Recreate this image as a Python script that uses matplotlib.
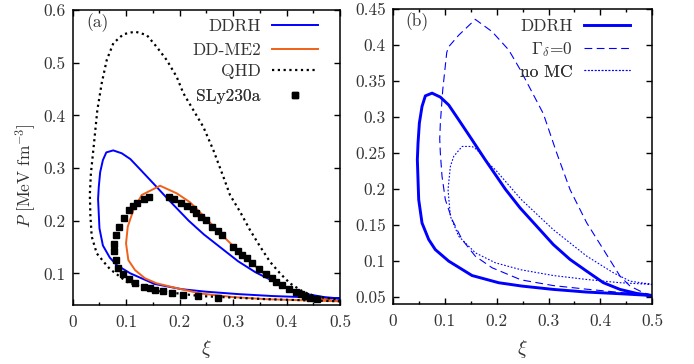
import numpy as np
import matplotlib.pyplot as plt
from matplotlib.ticker import MultipleLocator, FuncFormatter

plt.rcParams['font.family'] = 'cmr10'
plt.rcParams['mathtext.fontset'] = 'cm'
plt.rcParams['axes.formatter.use_mathtext'] = True
plt.rcParams['font.size'] = 12.5
plt.rcParams['text.color'] = '#333333'
plt.rcParams['xtick.labelcolor'] = '#333333'
plt.rcParams['ytick.labelcolor'] = '#333333'
plt.rcParams['axes.labelcolor'] = '#333333'

# DDRH loop (same in both panels): lower branch right->left, then upper branch left->right
ddrh_xi = [0.5, 0.4378, 0.3736, 0.3093, 0.249, 0.204, 0.1527, 0.1078, 0.082, 0.0693,
           0.0564, 0.05, 0.0474, 0.0487, 0.0513, 0.0564, 0.0628, 0.0757, 0.0917, 0.1078,
           0.127, 0.1527, 0.178, 0.1913, 0.2169, 0.2452, 0.2773, 0.3093, 0.3415, 0.3736,
           0.4057, 0.4378, 0.47, 0.5]
ddrh_p = [0.0522, 0.0547, 0.057, 0.0607, 0.0653, 0.07, 0.08, 0.1, 0.116, 0.13,
          0.153, 0.1855, 0.241, 0.264, 0.292, 0.315, 0.3297, 0.3335, 0.328, 0.317,
          0.2965, 0.2687, 0.241, 0.227, 0.2, 0.174, 0.1485, 0.123, 0.1023, 0.086,
          0.07, 0.0607, 0.0551, 0.0522]

# DD-ME2
ddme2_xi = [0.5, 0.43, 0.363, 0.3, 0.238, 0.1882, 0.157, 0.1352, 0.1165, 0.104,
            0.0997, 0.1029, 0.1134, 0.129, 0.1633, 0.1945, 0.2194, 0.238, 0.26, 0.28,
            0.3, 0.32, 0.34, 0.36, 0.38, 0.4, 0.425, 0.45, 0.5]
ddme2_p = [0.047, 0.049, 0.051, 0.055, 0.062, 0.0735, 0.0811, 0.0906, 0.1063, 0.1253,
           0.157, 0.1886, 0.2203, 0.2488, 0.2664, 0.252, 0.235, 0.216, 0.193, 0.172,
           0.152, 0.134, 0.115, 0.097, 0.083, 0.072, 0.061, 0.054, 0.047]

# QHD
qhd_xi = [0.5, 0.363, 0.238, 0.1446, 0.101, 0.0698, 0.0604, 0.0449, 0.0355, 0.033,
          0.032, 0.034, 0.0398, 0.046, 0.0542, 0.0636, 0.076, 0.0947, 0.1165, 0.1384,
          0.157, 0.1758, 0.1945, 0.2069, 0.2256, 0.2443, 0.263, 0.2817, 0.2942, 0.313,
          0.3317, 0.3504, 0.369, 0.3878, 0.4065, 0.4314, 0.4564, 0.5]
qhd_p = [0.047, 0.051, 0.057, 0.0684, 0.084, 0.108, 0.119, 0.138, 0.17, 0.21,
         0.25, 0.29, 0.347, 0.41, 0.461, 0.505, 0.537, 0.554, 0.559, 0.5525,
         0.53, 0.505, 0.473, 0.442, 0.41, 0.378, 0.334, 0.2835, 0.2487, 0.217,
         0.182, 0.151, 0.122, 0.1, 0.081, 0.065, 0.0557, 0.05]

# SLy230a points
sly_xi = [0.0773, 0.0773, 0.081, 0.0853, 0.0935, 0.106, 0.1165, 0.1334, 0.1446, 0.154,
          0.1695, 0.185, 0.2058, 0.235, 0.2724,
          0.081, 0.087, 0.096, 0.106, 0.112, 0.121, 0.1334, 0.1427, 0.1807, 0.1895,
          0.202, 0.2132, 0.2245, 0.2306, 0.2394, 0.2488, 0.2611, 0.2712, 0.2798, 0.3004,
          0.3086, 0.3173, 0.3255, 0.3348, 0.3485, 0.3616, 0.3722, 0.3803, 0.3909, 0.4046,
          0.4171, 0.4271, 0.4346, 0.4439, 0.4564]
sly_p = [0.1557, 0.143, 0.125, 0.1096, 0.0988, 0.0893, 0.0823, 0.0747, 0.0716, 0.0684,
         0.067, 0.0633, 0.0594, 0.057, 0.0526,
         0.1728, 0.1874, 0.2057, 0.2203, 0.2279, 0.233, 0.2406, 0.2444, 0.2444, 0.2406,
         0.233, 0.2284, 0.2216, 0.2152, 0.2076, 0.2013, 0.1886, 0.1804, 0.1728, 0.1506,
         0.143, 0.1348, 0.1286, 0.1202, 0.1083, 0.0988, 0.0906, 0.0842, 0.0779, 0.0703,
         0.064, 0.0602, 0.057, 0.0532, 0.0507]

# panel (b): Gamma_delta = 0
gd0_xi = [0.5, 0.4378, 0.3736, 0.3093, 0.247, 0.1913, 0.159, 0.1335, 0.1142, 0.1013,
          0.0949, 0.0917, 0.0905, 0.0917, 0.0963, 0.104, 0.1078, 0.127, 0.159, 0.1913,
          0.2234, 0.2458, 0.29, 0.3158, 0.3415, 0.3736, 0.4057, 0.4378, 0.457, 0.4827, 0.5]
gd0_p = [0.0522, 0.0565, 0.061, 0.066, 0.074, 0.0908, 0.1069, 0.13, 0.1578, 0.1855,
         0.218, 0.25, 0.27, 0.292, 0.338, 0.39, 0.398, 0.414, 0.436, 0.419,
         0.3935, 0.3658, 0.305, 0.2503, 0.1994, 0.1532, 0.1162, 0.0791, 0.0653, 0.0561, 0.0522]

# panel (b): no MC
nomc_xi = [0.5, 0.4378, 0.3736, 0.3093, 0.247, 0.1976, 0.159, 0.127, 0.111, 0.1065,
           0.111, 0.1175, 0.1335, 0.1527, 0.162, 0.187, 0.1976, 0.247, 0.3093, 0.3736,
           0.425, 0.457, 0.5]
nomc_p = [0.0676, 0.07, 0.0745, 0.08, 0.088, 0.0977, 0.1116, 0.1346, 0.1623, 0.1994,
          0.2317, 0.2456, 0.2594, 0.2594, 0.255, 0.234, 0.2271, 0.186, 0.1437, 0.1069,
          0.0838, 0.0722, 0.0676]

blue = '#0000ff'
orange = '#f0601a'

fig = plt.figure(figsize=(6.94, 3.64), dpi=100)
ax1 = fig.add_axes([0.1048, 0.1621, 0.3852, 0.8104])
ax2 = fig.add_axes([0.5659, 0.1640, 0.3741, 0.8104])

fmt = FuncFormatter(lambda v, pos: '%g' % round(v, 3))


def style(ax):
    ax.xaxis.set_major_locator(MultipleLocator(0.1))
    ax.xaxis.set_minor_locator(MultipleLocator(0.05))
    ax.xaxis.set_major_formatter(fmt)
    ax.yaxis.set_major_formatter(fmt)
    ax.tick_params(which='both', direction='in', top=True, right=True, width=1)
    ax.tick_params(which='major', length=4.5)
    ax.tick_params(which='minor', length=2.2)
    ax.tick_params(axis='x', pad=7)
    ax.tick_params(axis='y', pad=5)
    for s in ax.spines.values():
        s.set_linewidth(1.1)
    ax.set_xlim(0, 0.5)
    ax.set_xlabel(r'$\xi$', fontsize=14, labelpad=6)


def key(ax, line, label, x, y):
    # one legend per row, gnuplot style: right-aligned text, sample on the right
    leg = ax.legend([line], [label], loc='center right', bbox_to_anchor=(x, y),
                    frameon=False, markerfirst=False, handlelength=2.65,
                    handletextpad=0.65, borderaxespad=0, borderpad=0)
    ax.add_artist(leg)


# panel (a)
l1, = ax1.plot(ddrh_xi, ddrh_p, color=blue, lw=1.4)
l2, = ax1.plot(ddme2_xi, ddme2_p, color=orange, lw=1.4)
l3, = ax1.plot(qhd_xi, qhd_p, color='black', lw=1.6, linestyle=(0, (1, 1.6)))
l4, = ax1.plot(sly_xi, sly_p, 's', color='black', ms=4.3, lw=0)
ax1.set_ylim(0.04, 0.6)
ax1.yaxis.set_major_locator(MultipleLocator(0.1))
style(ax1)
ax1.set_ylabel(r'$P\ [\mathrm{MeV\ fm}^{-3}]$', va='center', ha='center')
ax1.yaxis.set_label_coords(-0.178, 0.44)
ax1.text(0.05, 0.957, '(a)', transform=ax1.transAxes, ha='left', va='center')
for ln, lab, yy in zip([l1, l2, l3, l4], ['DDRH', 'DD-ME2', 'QHD', 'SLy230a'],
                       [0.943, 0.864, 0.791, 0.708]):
    key(ax1, ln, lab, 0.918, yy)

# panel (b)
m1, = ax2.plot(ddrh_xi, ddrh_p, color=blue, lw=2.1)
m2, = ax2.plot(gd0_xi, gd0_p, color=blue, lw=0.8, linestyle=(0, (7, 4)))
m3, = ax2.plot(nomc_xi, nomc_p, color=blue, lw=0.8, linestyle=(0, (1.5, 1.6)))
ax2.set_ylim(0.04, 0.45)
ax2.yaxis.set_major_locator(MultipleLocator(0.05))
style(ax2)
ax2.text(0.05, 0.957, '(b)', transform=ax2.transAxes, ha='left', va='center')
for ln, lab, yy in zip([m1, m2, m3], ['DDRH', r'$\Gamma_\delta$=0', 'no MC'],
                       [0.943, 0.864, 0.788]):
    key(ax2, ln, lab, 0.914, yy)

fig.savefig('out.png', dpi=100)
